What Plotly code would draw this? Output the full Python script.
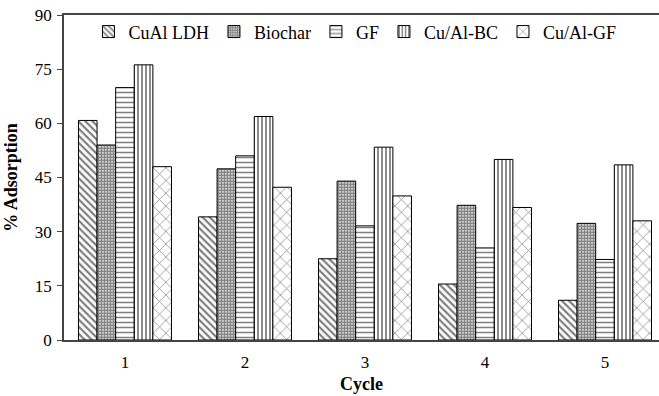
import plotly.graph_objects as go

cycles = [1, 2, 3, 4, 5]
series_names = ["CuAl LDH", "Biochar", "GF", "Cu/Al-BC", "Cu/Al-GF"]
cual_ldh = [60.8, 34.1, 22.5, 15.5, 11.0]
biochar = [54.0, 47.4, 44.0, 37.3, 32.3]
gf = [69.9, 51.0, 31.6, 25.5, 22.3]
cual_bc = [76.2, 61.9, 53.4, 50.0, 48.5]
cual_gf = [48.0, 42.3, 39.9, 36.7, 33.0]
y_ticks = [0, 15, 30, 45, 60, 75, 90]

values = [cual_ldh, biochar, gf, cual_bc, cual_gf]
patterns = [
    dict(shape="\\", size=5, solidity=0.45),
    dict(shape=".", size=3, solidity=0.75),
    dict(shape="-", size=5, solidity=0.3),
    dict(shape="|", size=4, solidity=0.45),
    dict(shape="x", size=9, solidity=0.15),
]

FONT = "Liberation Serif"

fig = go.Figure()
for name, vals, pat in zip(series_names, values, patterns):
    fig.add_trace(go.Bar(
        x=cycles, y=vals, name=name,
        marker=dict(color="white", line=dict(color="black", width=1),
                    pattern=dict(fgcolor="black", bgcolor="white",
                                 fillmode="overlay", **pat)),
    ))

fig.update_layout(
    width=659, height=396,
    margin=dict(l=64, r=0, t=15, b=56, autoexpand=False),
    paper_bgcolor="white", plot_bgcolor="white",
    barmode="group", bargap=0.225, bargroupgap=0,
    font=dict(family=FONT, size=17, color="black"),
    showlegend=True,
    legend=dict(orientation="h", x=0.489, xanchor="center", y=1.005, yanchor="top",
                font=dict(family=FONT, size=18), itemwidth=30,
                bgcolor="rgba(0,0,0,0)", tracegroupgap=0),
    xaxis=dict(range=[0.492, 5.45], tickvals=cycles, ticktext=[str(c) for c in cycles],
               showline=True, linecolor="#444", linewidth=1.5, mirror=True,
               ticks="", showgrid=False, zeroline=False, automargin=False,
               ticklabelstandoff=6,
               title=dict(text="<b>Cycle</b>", font=dict(family=FONT, size=18), standoff=6),
               tickfont=dict(family=FONT, size=17)),
    yaxis=dict(range=[0, 90], tickvals=y_ticks, showline=True, linecolor="#444",
               linewidth=1.5, mirror=False, ticks="outside", ticklen=5, tickcolor="#444",
               showgrid=False, zeroline=False, automargin=False, ticklabelstandoff=2,
               title=dict(text="<b>% Adsorption</b>", font=dict(family=FONT, size=18), standoff=13),
               tickfont=dict(family=FONT, size=17)),
)

fig.write_html("out.html", config={"displayModeBar": False},
               post_script="document.body.style.margin='0';")
